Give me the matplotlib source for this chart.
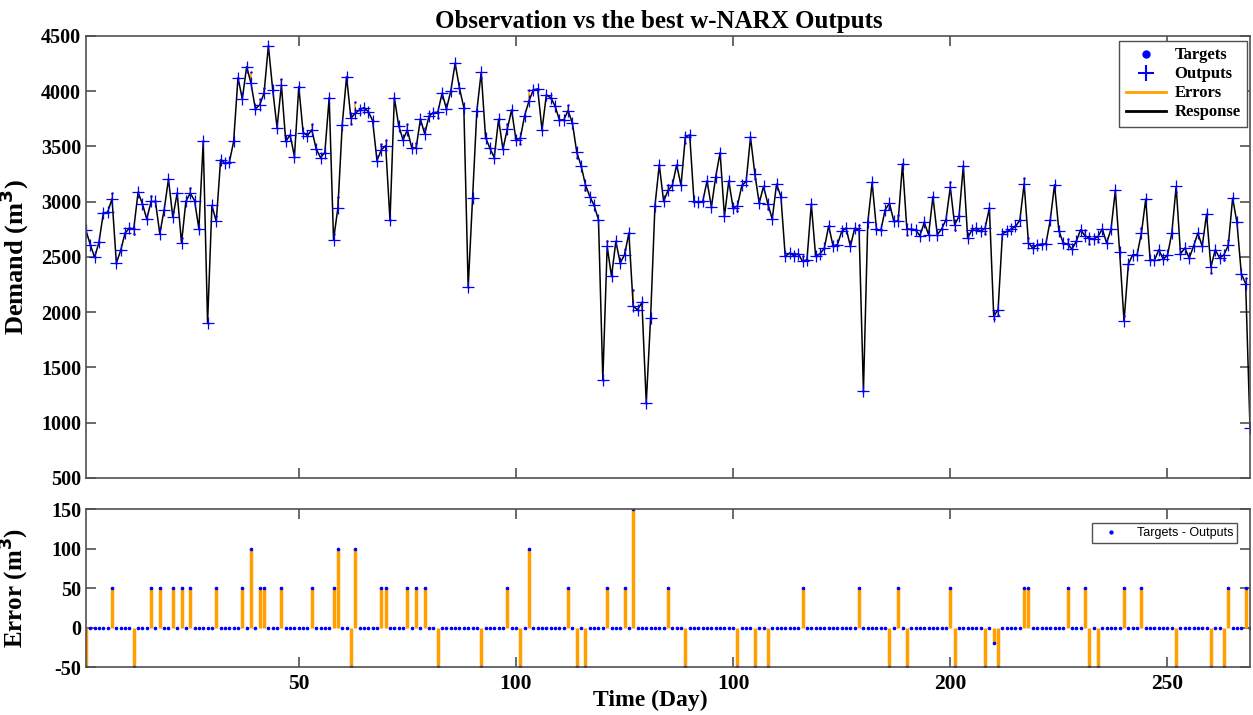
import numpy as np
import matplotlib
matplotlib.use("Agg")
import matplotlib.pyplot as plt
from matplotlib.lines import Line2D

# network outputs (m3), one per day
outputs = [
    2740, 2611, 2496, 2635, 2897, 2906, 3026, 2445, 2560, 2716,
    2761, 2755, 3084, 2981, 2843, 3002, 3002, 2710, 2927, 3204,
    2858, 3078, 2626, 3002, 3078, 3011, 2755, 3545, 1903, 2966,
    2821, 3379, 3349, 3355, 3545, 4123, 3930, 4223, 4072, 3840,
    3876, 3982, 4412, 4012, 3671, 4057, 3545, 3605, 3409, 4042,
    3626, 3599, 3650, 3478, 3400, 3445, 3942, 2656, 2942, 3695,
    4132, 3756, 3801, 3831, 3852, 3816, 3734, 3373, 3469, 3508,
    2831, 3942, 3689, 3560, 3650, 3490, 3484, 3747, 3614, 3777,
    3807, 3810, 3982, 3840, 4003, 4253, 4027, 3852, 2225, 3032,
    3825, 4171, 3581, 3484, 3400, 3747, 3475, 3656, 3831, 3560,
    3575, 3780, 3912, 4012, 4021, 3650, 3966, 3942, 3867, 3740,
    3740, 3825, 3710, 3448, 3325, 3153, 3047, 2966, 2837, 1390,
    2596, 2324, 2641, 2445, 2520, 2716, 2053, 2023, 2089, 1179,
    1948, 2963, 3334, 3002, 3102, 3147, 3334, 3147, 3584, 3605,
    3002, 2996, 3002, 3189, 2951, 3228, 3445, 2867, 3189, 2942,
    2963, 3147, 3183, 3584, 3252, 2987, 3138, 2981, 2843, 3159,
    3047, 2505, 2535, 2511, 2529, 2460, 2475, 2978, 2505, 2529,
    2580, 2782, 2601, 2611, 2731, 2761, 2596, 2761, 2740, 1285,
    2812, 3174, 2752, 2740, 2927, 2987, 2821, 2827, 3343, 2752,
    2752, 2746, 2692, 2812, 2701, 3047, 2701, 2752, 2837, 3132,
    2791, 2867, 3325, 2671, 2746, 2761, 2731, 2761, 2942, 1963,
    2023, 2710, 2731, 2752, 2776, 2831, 3162, 2626, 2580, 2611,
    2617, 2617, 2831, 3153, 2737, 2626, 2617, 2571, 2641, 2746,
    2692, 2671, 2662, 2686, 2752, 2626, 2752, 3102, 2541, 1918,
    2436, 2520, 2520, 2716, 3023, 2475, 2469, 2565, 2481, 2514,
    2716, 3138, 2529, 2580, 2490, 2596, 2716, 2596, 2888, 2409,
    2565, 2490, 2520, 2605, 3032, 2812, 2348, 2258, 953,
]

# days with a non-zero error (targets - outputs) and their values
error_days = [1, 7, 12, 16, 18, 21, 23, 25, 31, 37, 39, 41, 42, 46, 53,
              58, 59, 62, 63, 69, 70, 75, 77, 79, 82, 92, 98, 101, 103,
              112, 114, 116, 121, 125, 127, 135, 139, 151, 155, 158, 166,
              179, 186, 188, 190, 200, 201, 208, 210, 211, 217, 218, 227,
              231, 232, 234, 240, 244, 252, 260, 263, 264, 268]
error_vals = [-50, 50, -50, 50, 50, 50, 50, 50, 50, 50, 100, 50, 50, 50, 50,
              50, 100, -50, 100, 50, 50, 50, 50, 50, -50, -50, 50, -50, 100,
              50, -50, -50, 50, 50, 150, 50, -50, -50, -50, -50, 50,
              50, -50, 50, -50, 50, -50, -50, -20, -50, 50, 50, 50,
              50, -50, -50, 50, 50, -50, -50, -50, 50, 50]

xtick_pos = [50, 100, 150, 200, 250]
xtick_labels = ["50", "100", "100", "200", "250"]

days = np.arange(1, len(outputs) + 1)
outputs = np.array(outputs, dtype=float)
errors = np.zeros(len(outputs))
errors[np.array(error_days) - 1] = error_vals
targets = outputs + errors

plt.rcParams["font.family"] = ["Liberation Serif", "DejaVu Serif"]
plt.rcParams["font.weight"] = "bold"
plt.rcParams["axes.unicode_minus"] = False

orange = "#ff9f00"
spine_col = "#505050"

fig = plt.figure(figsize=(12.53, 7.15), dpi=100)
ax1 = fig.add_axes([0.0686, 0.3315, 0.929, 0.6182])
ax2 = fig.add_axes([0.0686, 0.0671, 0.929, 0.2209])

# top: response
ax1.vlines(days, outputs, targets, color=orange, lw=1.2)
ax1.plot(days, outputs, color="black", lw=1.1)
ax1.plot(days, targets, ".", color="blue", ms=1.5)
ax1.plot(days, outputs, "+", color="blue", ms=8, mew=0.9)
ax1.set_xlim(1, len(outputs))
ax1.set_ylim(500, 4500)
ax1.set_yticks(np.arange(500, 4501, 500))
ax1.set_xticks(xtick_pos)
ax1.set_xticklabels([])
ax1.set_ylabel("Demand (m$^\\mathbf{3}$)", fontsize=19, fontweight="bold")
ax1.set_title("Observation vs the best w-NARX Outputs", fontsize=18, fontweight="bold",
              pad=6, x=0.492)

handles = [
    Line2D([], [], ls="none", marker=".", color="blue", ms=10),
    Line2D([], [], ls="none", marker="+", color="blue", ms=11, mew=1.5),
    Line2D([], [], color=orange, lw=2),
    Line2D([], [], color="black", lw=2),
]
leg = ax1.legend(handles, ["Targets", "Outputs", "Errors", "Response"], loc="upper right",
                 prop={"family": "Liberation Serif", "weight": "bold", "size": 12},
                 fancybox=False, edgecolor=spine_col, framealpha=1, handlelength=2.4,
                 handletextpad=0.5, labelspacing=0.18, borderpad=0.4, borderaxespad=0,
                 bbox_to_anchor=(0.9975, 0.989))
leg.get_frame().set_linewidth(1.0)

# bottom: errors
ax2.vlines(days, 0, errors, color=orange, lw=2.5)
ax2.plot(days, errors, ".", color="blue", ms=3.2, label="Targets - Outputs")
ax2.set_xlim(1, len(outputs))
ax2.set_ylim(-50, 150)
ax2.set_yticks([-50, 0, 50, 100, 150])
ax2.set_xticks(xtick_pos)
ax2.set_xticklabels(xtick_labels)
ax2.set_ylabel("Error (m$^\\mathbf{3}$)", fontsize=18, fontweight="bold")
ax2.set_xlabel("Time (Day)", fontsize=17, fontweight="bold", labelpad=-3, x=0.485)
leg2 = ax2.legend(loc="upper right", prop={"family": "Liberation Sans", "weight": "normal", "size": 9},
                  fancybox=False, edgecolor=spine_col, framealpha=1, markerscale=1.3,
                  handlelength=2.5, borderpad=0.3, borderaxespad=0,
                  bbox_to_anchor=(0.989, 0.91))
leg2.get_frame().set_linewidth(1.0)

for ax in (ax1, ax2):
    ax.tick_params(direction="in", length=7, width=1.2, top=True, right=True,
                   color=spine_col, labelsize=14.5)
    ax.tick_params(axis="x", pad=5, labelsize=15.5)
    for lab in ax.get_xticklabels() + ax.get_yticklabels():
        lab.set_fontweight("bold")
    for s in ax.spines.values():
        s.set_color(spine_col)
        s.set_linewidth(1.2)

ax1.yaxis.set_label_coords(-0.047, 0.5)
ax2.yaxis.set_label_coords(-0.047, 0.5)

fig.savefig("out.png", dpi=100)
